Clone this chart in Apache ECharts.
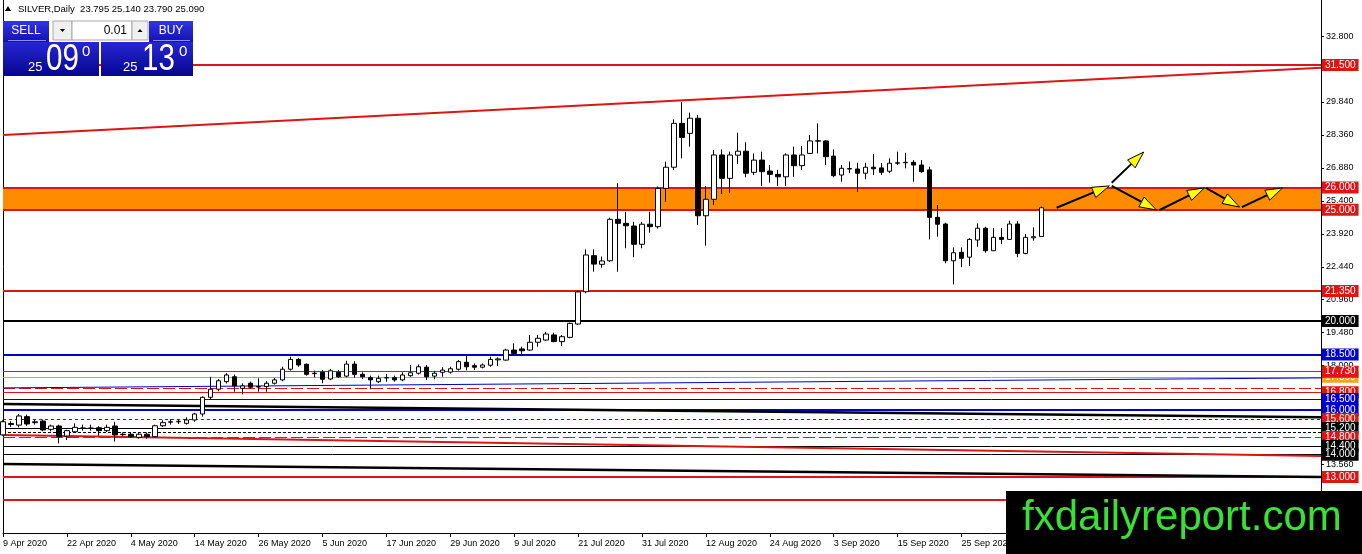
<!DOCTYPE html>
<html lang="en">
<head>
    <meta charset="UTF-8">
    <title>SILVER Daily</title>
    <style>
        html, body { margin: 0; padding: 0; background: #fff; }
        #main { width: 1362px; height: 554px; }
    </style>
</head>
<body>
<div id="main"></div>
<script src="https://cdn.jsdelivr.net/npm/echarts@6/dist/echarts.min.js"></script>
<script type="text/javascript">
    var myChart = echarts.init(document.getElementById("main"));

    // trading days from 9 Apr 2020 (Good Friday skipped), plus empty days to the right edge
    var months = ["Jan", "Feb", "Mar", "Apr", "May", "Jun", "Jul", "Aug", "Sep", "Oct", "Nov", "Dec"];
    var categories = [];
    (function () {
        var d = new Date(Date.UTC(2020, 3, 9));
        while (categories.length < 166) {
            var wd = d.getUTCDay();
            var key = d.toISOString().slice(0, 10);
            if (wd !== 0 && wd !== 6 && key !== "2020-04-10") {
                categories.push(d.getUTCDate() + " " + months[d.getUTCMonth()] + " " + d.getUTCFullYear());
            }
            d.setUTCDate(d.getUTCDate() + 1);
        }
    })();

    var opens = [14.89,15.40,15.33,15.71,15.44,15.51,15.14,15.29,14.84,15.03,15.20,15.18,15.21,15.08,15.29,14.90,14.92,14.78,14.92,14.81,
        15.30,15.46,15.48,15.41,15.56,15.83,16.58,16.94,17.28,17.50,16.98,17.21,17.04,17.06,17.21,17.36,17.84,18.28,18.06,17.64,
        17.70,17.40,17.70,17.53,18.07,17.61,17.46,17.28,17.45,17.46,17.36,17.55,17.66,17.93,17.53,17.70,17.71,17.84,18.15,18.00,
        17.93,18.02,18.26,18.25,18.70,18.75,18.70,19.05,19.15,19.38,19.08,19.27,19.87,21.32,22.94,22.55,22.71,24.57,24.39,24.27,
        23.45,24.35,24.24,25.96,26.91,28.88,28.43,29.11,24.73,25.47,27.46,26.41,27.45,27.63,26.68,27.23,26.74,26.59,26.48,27.46,
        26.98,27.53,28.08,28.09,27.41,26.56,26.85,26.83,26.64,26.91,26.88,26.73,27.09,27.11,27.13,27.01,26.79,24.66,24.36,22.71,
        23.09,22.87,23.64,24.17,23.16,23.76,23.67,24.36,23.04,23.74,23.795];
    var closes = [15.48,15.36,15.74,15.38,15.48,15.11,15.29,14.81,15.08,15.23,15.19,15.20,15.08,15.23,14.89,14.92,14.81,14.92,14.81,15.30,
        15.44,15.48,15.50,15.56,15.83,16.58,16.94,17.32,17.58,17.09,17.09,17.03,17.06,17.21,17.36,17.84,18.28,18.03,17.61,17.66,
        17.39,17.77,17.50,18.07,17.61,17.50,17.36,17.43,17.46,17.36,17.58,17.68,17.95,17.50,17.66,17.80,17.86,18.18,17.95,17.93,
        18.03,18.28,18.30,18.70,18.55,18.67,19.05,19.23,19.42,19.08,19.30,19.90,21.31,22.97,22.56,22.70,24.57,24.39,24.28,23.45,
        24.35,24.24,25.96,26.91,28.88,28.25,29.11,24.73,25.47,27.46,26.41,27.46,27.63,26.64,27.23,26.71,26.59,26.48,27.46,26.98,
        27.46,28.09,28.10,27.38,26.53,26.86,26.83,26.64,26.91,26.84,26.68,27.09,27.11,27.13,27.01,26.71,24.66,24.35,22.71,23.07,
        22.82,23.67,24.17,23.16,23.76,23.67,24.36,23.04,23.76,23.79,25.09];
    var lows = [14.85,15.25,15.23,15.30,15.35,15.05,15.05,14.51,14.66,14.98,15.08,15.08,14.85,15.02,14.59,14.85,14.75,14.72,14.72,14.78,
        15.25,15.35,15.38,15.35,15.48,15.71,16.50,16.85,17.20,16.83,16.71,16.98,16.83,16.83,17.15,17.30,17.78,17.95,17.55,17.48,
        17.21,17.35,17.45,17.48,17.46,17.40,16.94,17.22,17.28,17.28,17.30,17.50,17.60,17.36,17.39,17.50,17.65,17.78,17.79,17.80,
        17.88,17.95,17.98,18.22,18.43,18.43,18.67,18.85,19.12,19.05,18.88,19.23,19.83,21.25,22.22,22.40,22.65,22.22,23.27,22.87,
        23.27,23.97,24.15,25.36,26.79,27.31,27.83,24.32,23.39,25.21,25.71,25.77,27.05,26.46,26.56,26.07,26.22,26.07,26.07,26.48,
        26.79,27.50,27.53,27.01,26.46,26.26,26.64,25.81,26.37,26.56,26.56,26.64,27.01,26.86,26.26,26.66,23.67,23.79,22.60,21.65,
        22.42,22.47,23.34,23.07,23.15,23.45,23.64,22.87,23.00,23.61,23.79];
    var highs = [15.55,15.50,15.83,15.80,15.58,15.58,15.35,15.35,15.12,15.41,15.35,15.35,15.28,15.35,15.48,15.00,15.00,15.00,15.00,15.35,
        15.55,15.60,15.60,15.68,15.88,16.62,17.50,17.40,17.66,17.60,17.20,17.28,17.43,17.30,17.45,17.95,18.40,18.35,18.10,17.78,
        17.80,17.85,17.80,18.22,18.20,17.70,17.55,17.55,17.62,17.55,17.70,18.03,18.05,18.03,17.77,17.93,17.95,18.25,18.43,18.10,
        18.10,18.40,18.37,18.76,19.00,18.85,19.38,19.38,19.52,19.48,19.38,19.93,21.37,23.22,23.22,22.90,24.65,26.19,24.91,24.46,
        24.46,24.91,26.05,27.16,29.06,29.83,29.36,29.25,26.07,27.68,27.71,27.61,28.46,28.03,27.53,27.61,27.01,26.79,27.53,27.83,
        27.86,28.36,28.88,28.12,27.71,27.01,27.16,27.11,27.11,27.50,27.09,27.31,27.61,27.56,27.23,27.23,26.93,25.21,24.42,23.31,
        23.31,23.72,24.39,24.24,24.17,24.17,24.51,24.50,23.91,24.21,25.14];

    var yTickLabels = [12.08, 13.56, 15.04, 16.52, 18.00, 19.48, 20.96, 22.44, 23.92, 25.40, 26.88, 28.36, 29.84, 31.32, 32.80];

    var bandLow = 25.0;
    var bandHigh = 26.0;
    var levelValues = [31.5, 26.0, 25.0, 21.35, 20.0, 18.5, 17.5, 17.73, 17.0, 16.8, 16.5, 16.0, 15.6, 15.2, 15.0, 14.8, 14.4, 14.0, 13.0, 12.0];
    // sloped lines, value at the first and at the last category
    var trendStart = [28.36, 17.00, 16.28, 14.89, 13.58];
    var trendEnd = [31.38, 17.45, 15.68, 13.94, 13.00];
    // projected path arrows: [bar index, price]
    var arrowTail = [[131.9, 25.09], [138.8, 26.21], [138.8, 26.07], [144.8, 24.99], [150.6, 25.98], [155.1, 25.12]];
    var arrowHead = [[138.5, 26.07], [142.8, 27.59], [144.4, 24.99], [150.4, 25.98], [154.8, 25.12], [160.2, 25.98]];

    var RED = "#dd1515", BLUE = "#0000cc", BLACK = "#000000", DRED = "#b00000", GOLD = "#e0a030";
    // colour, width, type, label background (null = no label)
    var levelLook = [
        [RED, 2, "solid", RED], [RED, 2, "solid", RED], [RED, 2, "solid", RED], [RED, 2, "solid", RED],
        [BLACK, 2, "solid", BLACK], [BLUE, 2, "solid", BLUE], [GOLD, 1, "solid", "#f2a325"], [RED, 1, "solid", RED],
        [RED, 1, [12, 4], null], [RED, 1, "solid", RED], [BLUE, 1, "solid", BLUE], [BLUE, 2, "solid", BLUE],
        [DRED, 1, [3, 3], RED], [BLACK, 1, "solid", BLACK], [BLACK, 1, [3, 2], null], [RED, 1, [12, 4], RED],
        [BLACK, 1, "solid", BLACK], [BLACK, 1, "solid", BLACK], [RED, 2, "solid", RED], [RED, 2, "solid", RED]
    ];
    var trendLook = [[RED, 2], [BLUE, 1], [BLACK, 2.5], [RED, 2], [BLACK, 2.5]];

    var ohlc = opens.map(function (o, i) { return [o, closes[i], lows[i], highs[i]]; });

    var lineData = levelValues.map(function (v, i) {
        var lk = levelLook[i];
        return {
            yAxis: v,
            lineStyle: { color: lk[0], width: lk[1], type: lk[2] },
            label: lk[3] ? {
                show: true, position: "end", distance: 1,
                formatter: v.toFixed(3),
                color: "#fff", backgroundColor: lk[3],
                padding: [1, 3, 0, 3], fontSize: 10, lineHeight: 11,
                fontFamily: "Liberation Sans"
            } : { show: false }
        };
    });
    trendStart.forEach(function (v, i) {
        lineData.push([
            { coord: [categories[0], v], lineStyle: { color: trendLook[i][0], width: trendLook[i][1], type: "solid" }, label: { show: false } },
            { coord: [categories[categories.length - 1], trendEnd[i]] }
        ]);
    });

    function arrowItem(params, api) {
        var t = arrowTail[params.dataIndex], h = arrowHead[params.dataIndex];
        var a0 = api.coord([0, t[1]]), a1 = api.coord([1, t[1]]);
        var step = a1[0] - a0[0];
        var b0 = api.coord([0, h[1]]);
        var p0 = [a0[0] + t[0] * step, a0[1]];
        var p1 = [b0[0] + h[0] * step, b0[1]];
        var dx = p1[0] - p0[0], dy = p1[1] - p0[1];
        var len = Math.sqrt(dx * dx + dy * dy), ux = dx / len, uy = dy / len;
        var hl = 17, hw = 5.5;
        var base = [p1[0] - ux * hl, p1[1] - uy * hl];
        return {
            type: "group",
            children: [
                { type: "line", shape: { x1: p0[0], y1: p0[1], x2: base[0], y2: base[1] }, style: { stroke: "#000", lineWidth: 2 } },
                { type: "polygon", shape: { points: [p1, [base[0] - uy * hw, base[1] + ux * hw], [base[0] + uy * hw, base[1] - ux * hw]] },
                  style: { fill: "#ffff00", stroke: "#000", lineWidth: 1 } }
            ]
        };
    }

    var blueBtn = { type: "linear", x: 0, y: 0, x2: 0, y2: 1, colorStops: [{ offset: 0, color: "#3434e4" }, { offset: 1, color: "#1212b0" }] };
    var bluePrice = { type: "linear", x: 0, y: 0, x2: 0, y2: 1, colorStops: [{ offset: 0, color: "#2626d4" }, { offset: 1, color: "#06068e" }] };
    var F = "Liberation Sans";

    var option = {
        animation: false,
        backgroundColor: "#fff",
        grid: { left: 3, right: 41, top: 0, bottom: 21, containLabel: false },
        xAxis: {
            type: "category",
            data: categories,
            boundaryGap: false,
            axisLine: { lineStyle: { color: "#000", width: 1 } },
            axisTick: { show: true, length: 4, lineStyle: { color: "#000" }, interval: function (i) { return i % 8 === 0; } },
            axisLabel: {
                interval: function (i) { return i % 8 === 0; },
                align: "left", margin: 6, color: "#000", fontSize: 9, fontFamily: F
            },
            splitLine: { show: false }
        },
        yAxis: [{
            type: "value",
            position: "right",
            min: 10.485,
            max: 34.419,
            axisLine: { show: true, lineStyle: { color: "#000" } },
            axisTick: { show: true, length: 3, lineStyle: { color: "#000" }, customValues: yTickLabels },
            axisLabel: {
                customValues: yTickLabels, margin: 5, color: "#000", fontSize: 9, fontFamily: F,
                formatter: function (v) { return v.toFixed(3); }
            },
            splitLine: { show: false }
        }, {
            type: "value",
            position: "left",
            min: 10.485,
            max: 34.419,
            axisLine: { show: true, lineStyle: { color: "#000" } },
            axisTick: { show: false },
            axisLabel: { show: false },
            splitLine: { show: false }
        }],
        series: [{
            name: "band",
            type: "line",
            data: [],
            z: 1,
            markArea: {
                silent: true, z: 1,
                itemStyle: { color: "#ff8c00", opacity: 1 },
                data: [[{ yAxis: bandLow }, { yAxis: bandHigh }]]
            }
        }, {
            name: "levels",
            type: "line",
            data: [],
            z: 2,
            markLine: {
                silent: true, z: 2,
                symbol: ["none", "none"],
                animation: false,
                data: lineData
            }
        }, {
            name: "SILVER",
            type: "candlestick",
            z: 3,
            barWidth: 5,
            data: ohlc,
            itemStyle: { color: "#fff", color0: "#000", borderColor: "#000", borderColor0: "#000", borderWidth: 1 }
        }, {
            name: "path",
            type: "custom",
            z: 4,
            renderItem: arrowItem,
            data: arrowTail.map(function (p) { return [Math.round(p[0]), p[1]]; })
        }],
        graphic: [
            { type: "polygon", z: 100, shape: { points: [[5, 11], [11, 11], [8, 6]] }, style: { fill: "#000" } },
            { type: "text", z: 100, style: { x: 18, y: 9, text: "SILVER,Daily  23.795 25.140 23.790 25.090", fill: "#000", font: "9.5px " + F, textAlign: "left", textVerticalAlign: "middle" } },

            { type: "rect", z: 100, shape: { x: 3, y: 21, width: 46, height: 21 }, style: { fill: blueBtn } },
            { type: "rect", z: 101, shape: { x: 8, y: 40, width: 38, height: 1 }, style: { fill: "#8c8cff" } },
            { type: "text", z: 101, style: { x: 26, y: 30.5, text: "SELL", fill: "#fff", font: "12px " + F, textAlign: "center", textVerticalAlign: "middle" } },

            { type: "rect", z: 100, shape: { x: 53, y: 21, width: 19, height: 19 }, style: { fill: "#f0f0f0", stroke: "#a8a8a8", lineWidth: 1 } },
            { type: "polygon", z: 101, shape: { points: [[60, 29], [65, 29], [62.5, 32]] }, style: { fill: "#000" } },
            { type: "rect", z: 100, shape: { x: 72, y: 21, width: 60, height: 19 }, style: { fill: "#fff", stroke: "#a8a8a8", lineWidth: 1 } },
            { type: "text", z: 101, style: { x: 127, y: 30.5, text: "0.01", fill: "#000", font: "12px " + F, textAlign: "right", textVerticalAlign: "middle" } },
            { type: "rect", z: 100, shape: { x: 132, y: 21, width: 16, height: 19 }, style: { fill: "#f0f0f0", stroke: "#a8a8a8", lineWidth: 1 } },
            { type: "polygon", z: 101, shape: { points: [[137.5, 32], [142.5, 32], [140, 29]] }, style: { fill: "#000" } },

            { type: "rect", z: 100, shape: { x: 149, y: 21, width: 44, height: 21 }, style: { fill: blueBtn } },
            { type: "rect", z: 101, shape: { x: 153, y: 40, width: 37, height: 1 }, style: { fill: "#8c8cff" } },
            { type: "text", z: 101, style: { x: 171, y: 30.5, text: "BUY", fill: "#fff", font: "12px " + F, textAlign: "center", textVerticalAlign: "middle" } },

            { type: "rect", z: 100, shape: { x: 3, y: 42, width: 96, height: 34 }, style: { fill: bluePrice } },
            { type: "rect", z: 100, shape: { x: 101, y: 42, width: 92, height: 34 }, style: { fill: bluePrice } },
            { type: "text", z: 101, style: { x: 28, y: 67, text: "25", fill: "#fff", font: "13px " + F, textAlign: "left", textVerticalAlign: "middle" } },
            { type: "text", z: 101, x: 46, y: 60, scaleX: 0.82, style: { x: 0, y: 0, text: "09", fill: "#fff", font: "36px " + F, textAlign: "left", textVerticalAlign: "middle" } },
            { type: "text", z: 101, style: { x: 82, y: 52, text: "0", fill: "#fff", font: "15px " + F, textAlign: "left", textVerticalAlign: "middle" } },
            { type: "text", z: 101, style: { x: 123, y: 67, text: "25", fill: "#fff", font: "13px " + F, textAlign: "left", textVerticalAlign: "middle" } },
            { type: "text", z: 101, x: 142, y: 60, scaleX: 0.82, style: { x: 0, y: 0, text: "13", fill: "#fff", font: "36px " + F, textAlign: "left", textVerticalAlign: "middle" } },
            { type: "text", z: 101, style: { x: 179, y: 52, text: "0", fill: "#fff", font: "15px " + F, textAlign: "left", textVerticalAlign: "middle" } },

            { type: "rect", z: 100, shape: { x: 1006, y: 491, width: 356, height: 63 }, style: { fill: "#000" } },
            { type: "text", z: 101, style: { x: 1022, y: 518, text: "fxdailyreport.com", fill: "#38e038", font: "42px " + F, textAlign: "left", textVerticalAlign: "middle" } }
        ]
    };

    myChart.setOption(option);
</script>
</body>
</html>
